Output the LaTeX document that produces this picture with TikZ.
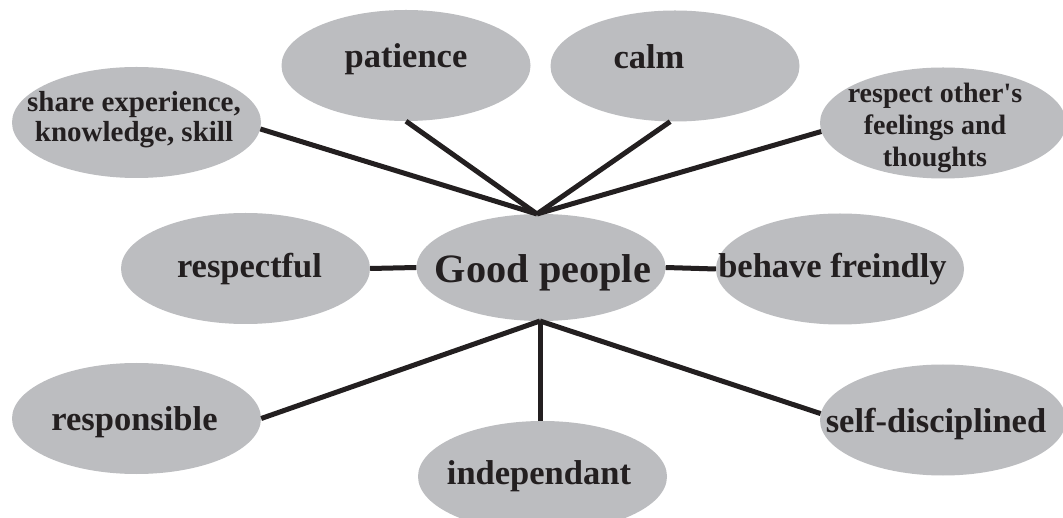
\documentclass[tikz,border=0pt]{standalone}
\usepackage{fontspec}
\setmainfont{Liberation Serif}
\usetikzlibrary{shapes.geometric}
\definecolor{bubblegray}{RGB}{188,189,192}
\definecolor{ink}{RGB}{35,31,32}
\begin{document}
\begin{tikzpicture}[x=1pt,y=-1pt,
  bubble/.style={ellipse, fill=bubblegray, draw=none, inner sep=0pt,
                 minimum width=249pt, minimum height=111pt},
  lbl/.style={anchor=base, text=ink, inner sep=0pt,
              font=\bfseries\fontsize{34.5}{36}\selectfont},
  small/.style={anchor=center, text=ink, align=center, inner sep=0pt,
                font=\bfseries\fontsize{29}{30}\selectfont},
  link/.style={draw=ink, line width=5pt}]
\useasboundingbox (0,0) rectangle (1063,518);
\fill[white] (0,0) rectangle (1063,518);

% ellipses
\node[bubble] (share) at (136.5,122.5) {};
\node[bubble] (patience) at (406,65.5) {};
\node[bubble] (calm) at (675,66) {};
\node[bubble, minimum width=246pt] (respect) at (943,123) {};
\node[bubble] (respectful) at (245.5,268.5) {};
\node[bubble, minimum height=107pt] (good) at (541,267.5) {};
\node[bubble, minimum width=248pt] (behave) at (840,269) {};
\node[bubble] (responsible) at (136.5,418.5) {};
\node[bubble, minimum width=246pt] (selfd) at (943,420) {};
\node[bubble] (indep) at (542.5,476.5) {};

% hubs
\coordinate (hubT) at (537,214);
\coordinate (hubB) at (540,321);

% connectors
\draw[link] (share.-3) -- (hubT);
\draw[link] (patience.south) -- (hubT);
\draw[link] (calm.265) -- (hubT);
\draw[link] (respect.184) -- (hubT);
\draw[link] (respectful.east) -- (good.west);
\draw[link] (good.east) -- (behave.west);
\draw[link] (responsible.east) -- (hubB);
\draw[link] (indep.north -| hubB) -- (hubB);
\draw[link] (selfd.177) -- (hubB);

% texts
\node[lbl] (tpatience) at (406,68) {patience};
\node[lbl] (tcalm) at (649,69) {calm};
\node[lbl] (trespectful) at (249.5,278) {respectful};
\node[lbl, font=\bfseries\fontsize{40.3}{42}\selectfont] (tgood) at (543,283) {Good people};
\node[lbl] (tbehave) at (832.5,278) {behave freindly};
\node[lbl] (tresponsible) at (134.5,431) {responsible};
\node[lbl] (tself) at (936,432) {self-disciplined};
\node[lbl] (tindep) at (539,484) {independant};
\node[small] (tshare) at (134,119.4) {share experience,\\knowledge, skill};
\node[small, font=\bfseries\fontsize{28}{32}\selectfont] (trespect) at (935,127.6)
  {respect other\textquotesingle s\\feelings and\\thoughts};
\end{tikzpicture}
\end{document}
